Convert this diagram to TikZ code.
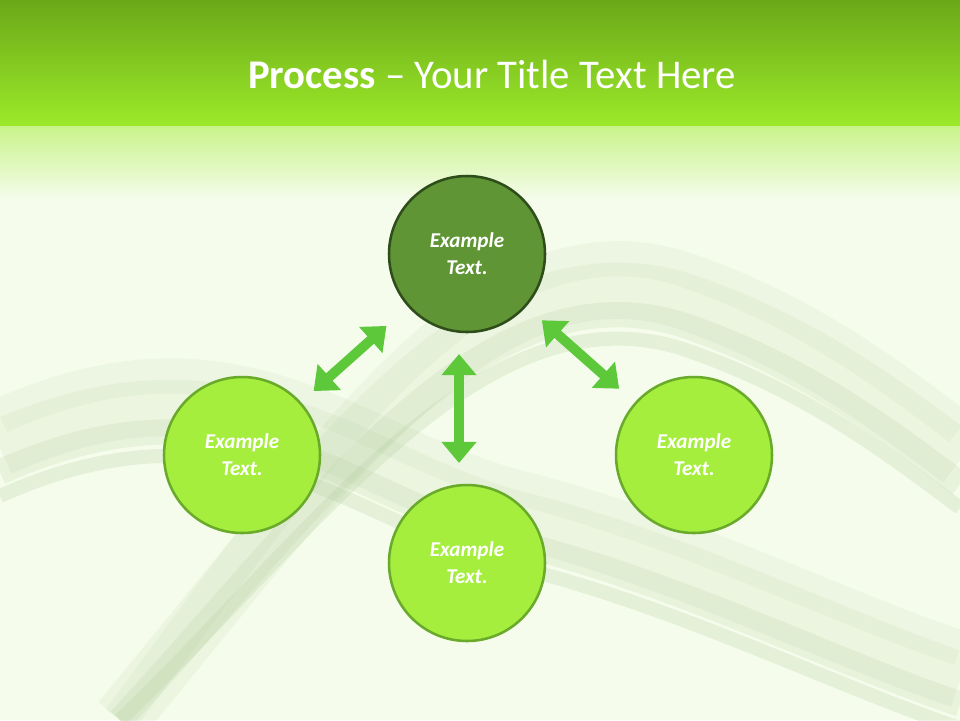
\documentclass[tikz,border=0pt]{standalone}
\usepackage{fontspec}
\setmainfont{Carlito}
\usetikzlibrary{arrows.meta}
\definecolor{bandtop}{HTML}{6BA818}
\definecolor{bandbot}{HTML}{9CEA2A}
\definecolor{bg}{HTML}{F5FCEC}
\definecolor{darkfill}{HTML}{5F9535}
\definecolor{darkline}{HTML}{2E4D1A}
\definecolor{lightfill}{HTML}{A6EE3E}
\definecolor{lightline}{HTML}{6AAA2A}
\definecolor{arrowc}{HTML}{5CC83A}
\definecolor{wave}{HTML}{B5CFA0}
\tikzset{
  bubble/.style={circle,minimum size=3.9cm,line width=1.8pt,draw=lightline,fill=lightfill,
    text=white,font=\fontsize{15}{19}\selectfont\bfseries\itshape,align=center},
  darkbubble/.style={bubble,draw=darkline,fill=darkfill},
  link/.style={arrowc,line width=7pt,{Triangle[width=24pt,length=15pt]}-{Triangle[width=24pt,length=15pt]},
    shorten <=2.5cm,shorten >=2.5cm}
}
\begin{document}
\begin{tikzpicture}[x=1cm,y=-1cm]
\useasboundingbox (0,0) rectangle (24,18);
\fill[bg] (0,0) rectangle (24,18);
\begin{scope}
\clip (0,0) rectangle (24,18);
\foreach \o/\w/\op in {0/40/0.15,0.6/18/0.2,1.2/10/0.25,-0.8/25/0.12}{
  \draw[wave,line width=\w pt,opacity=\op] (0,11.2+\o) .. controls (6,8.5+\o) and (9,12+\o) .. (13,13+\o) .. controls (17,14+\o) and (21,16+\o) .. (24,17+\o);
  \draw[wave,line width=\w pt,opacity=\op] (3,18) .. controls (8,12+\o) and (12,6+\o) .. (17,7.5+\o) .. controls (20,8.5+\o) and (22,10+\o) .. (24,11.5+\o);
}
\end{scope}
\shade[top color=bandtop,bottom color=bandbot] (0,0) rectangle (24,3.15);
\shade[top color=bandbot!55!white,bottom color=bg] (0,3.15) rectangle (24,5.0);
\node[text=white,font=\fontsize{29}{33}\selectfont] (title) at (12.3,1.85) {\textbf{Process} -- Your Title Text Here};
\node[darkbubble] (top) at (11.675,6.35) {Example\\Text.};
\node[bubble] (left) at (6.05,11.375) {Example\\Text.};
\node[bubble] (bottom) at (11.675,14.075) {Example\\Text.};
\node[bubble] (right) at (17.35,11.375) {Example\\Text.};
\draw[link,shorten >=2.7cm,shorten <=2.4cm] (left.center) -- (top.center);
\draw[link] ([xshift=-0.2cm]top.center) -- ([xshift=-0.2cm]bottom.center);
\draw[link] (top.center) -- (right.center);
\end{tikzpicture}
\end{document}
